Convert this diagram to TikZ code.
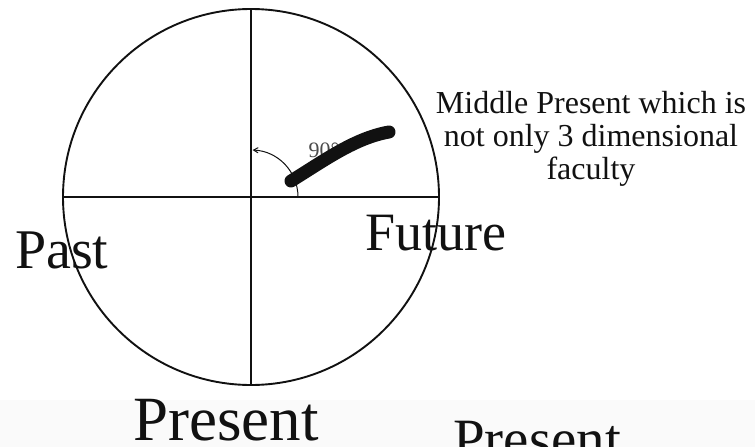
\documentclass[tikz,border=0pt]{standalone}
\usepackage{fontspec}
\setmainfont{Liberation Serif}
\usetikzlibrary{arrows, positioning, calc}
\definecolor{pgray}{HTML}{FAFAFA}
\definecolor{ink}{HTML}{111111}

\begin{document}
\begin{tikzpicture}[x=1pt, y=-1pt]

\tikzstyle{word} = [inner sep=0pt, anchor=base west, text=ink]
\tikzstyle{axis} = [line width=1.9pt, ink]
\tikzstyle{arrow} = [->, >=angle 60, line width=1pt, ink]
\tikzstyle{marker} = [line width=13pt, line cap=round, ink]

\useasboundingbox (0,0) rectangle (755,447);
\fill[pgray] (0,400) rectangle (755,447);

% Circle
\coordinate (o) at (251,197);
\draw[axis] (o) circle[radius=188pt];
\coordinate (top) at (251,9);
\coordinate (bot) at (251,385);
\coordinate (lft) at (63,197);
\coordinate (rgt) at (439,197);
\draw[axis] (top) -- (bot);
\draw[axis] (lft) -- (rgt);

% Angle
\coordinate (a0) at (298,197);
\node[text=gray!60!black, font=\fontsize{22}{22}\selectfont] (ninety) at (324,150) {90°};
\draw[arrow] (a0) arc[start angle=0, end angle=88, radius=47pt];

% Marker stroke
\coordinate (m0) at (291,181);
\coordinate (m1) at (389,132);
\draw[marker] (m0) .. controls (325,160) and (355,138) .. (m1);

% Labels
\node[align=center, text=ink, font=\fontsize{32}{33}\selectfont] (middle) at (591,139)
  {Middle Present which is\\ not only 3 dimensional\\ faculty};
\node[word, font=\fontsize{56}{56}\selectfont] (past) at (15,268) {Past};
\node[word, font=\fontsize{54}{54}\selectfont] (future) at (365,250) {Future};
\node[word, font=\fontsize{63}{63}\selectfont] (present) at (133,440) {Present};
\node[word, font=\fontsize{57}{57}\selectfont] (present2) at (453,458) {Present};

\end{tikzpicture}
\end{document}
